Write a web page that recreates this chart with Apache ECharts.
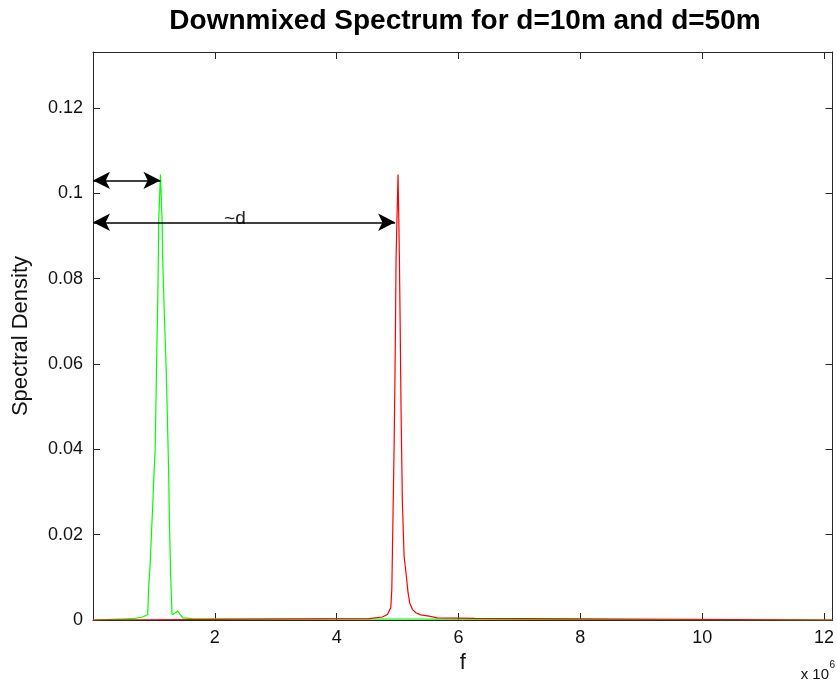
<!DOCTYPE html>
<html>
<head>
<meta charset="utf-8">
<script src="https://cdn.jsdelivr.net/npm/echarts@6/dist/echarts.min.js"></script>
<style>
  html, body { margin: 0; padding: 0; background: #fff; }
  #chart { width: 837px; height: 683px; }
</style>
</head>
<body>
<div id="chart"></div>
<script>
// Frequency axis in units of 10^6 Hz
const fGreen = [0, 0.652, 0.816, 0.898, 0.915, 0.939, 0.959, 0.980, 0.997, 1.020, 1.036, 1.052, 1.062, 1.074, 1.079,
  1.090, 1.107, 1.118, 1.134, 1.144, 1.172, 1.200, 1.221, 1.243, 1.254, 1.275, 1.298, 1.336, 1.390, 1.430, 1.472,
  1.636, 12.14];
const sGreen = [0, 0.0003, 0.0007, 0.0013, 0.0079, 0.0134, 0.0200, 0.0267, 0.0329, 0.0399, 0.0532, 0.0665, 0.0735,
  0.0868, 0.0938, 0.0977, 0.1044, 0.1001, 0.0938, 0.0845, 0.0712, 0.0595, 0.0478, 0.0337, 0.0236, 0.0103, 0.0013,
  0.0015, 0.0021, 0.0013, 0.0005, 0.0003, 0];

const fRed = [0, 4.534, 4.751, 4.833, 4.889, 4.905, 4.915, 4.931, 4.943, 4.954, 4.964, 4.975, 4.987, 5.008, 5.020,
  5.030, 5.041, 5.057, 5.079, 5.107, 5.144, 5.172, 5.200, 5.243, 5.298, 5.380, 5.516, 5.652, 6.270, 6.290, 12.14];
const sRed = [0, 0.0003, 0.0007, 0.0013, 0.0029, 0.0071, 0.0157, 0.0298, 0.0407, 0.0532, 0.0665, 0.0845, 0.0923,
  0.1044, 0.0938, 0.0845, 0.0712, 0.0493, 0.0275, 0.0149, 0.0103, 0.0064, 0.0040, 0.0025, 0.0017, 0.0012, 0.0009,
  0.0005, 0.0004, 0, 0];

// Tick labels
const xTickLabels = [2, 4, 6, 8, 10, 12];
const yTickLabels = [0, 0.02, 0.04, 0.06, 0.08, 0.1, 0.12];

// Distance annotations (horizontal double arrows)
const arrowShort = { from: [0, 0.1030], to: [1.107, 0.1030] };
const arrowLong = { from: [0, 0.0932], to: [4.96, 0.0932] };
const arrowLongText = { at: [2.33, 0.0932], text: '~d' };

const X_MAX = 12.14, Y_MAX = 0.1331;
const FONT = '"Liberation Sans", Arial, Helvetica, sans-serif';
const AXIS_COLOR = '#262626';

const pairs = (xs, ys) => xs.map((x, i) => [x, ys[i]]);
const near = (v, list) => list.some(t => Math.abs(t - v) < 1e-6);

const chart = echarts.init(document.getElementById('chart'), null, { renderer: 'canvas' });

const baseX = {
  type: 'value', min: 0, max: X_MAX, interval: 2,
  axisLine: { show: true, onZero: false, lineStyle: { color: AXIS_COLOR, width: 1 } },
  axisTick: { show: true, inside: true, length: 7, lineStyle: { color: AXIS_COLOR } },
  splitLine: { show: false }
};
const baseY = {
  type: 'value', min: 0, max: Y_MAX, interval: 0.02,
  axisLine: { show: true, onZero: false, lineStyle: { color: AXIS_COLOR, width: 1 } },
  axisTick: { show: true, inside: true, length: 7, lineStyle: { color: AXIS_COLOR } },
  splitLine: { show: false }
};

const arrowLine = (a) => [{ coord: a.from }, { coord: a.to }];

chart.setOption({
  animation: false,
  backgroundColor: '#ffffff',
  textStyle: { fontFamily: FONT },
  grid: { left: 93, top: 52, width: 741, height: 568, containLabel: false },
  xAxis: [
    Object.assign({}, baseX, {
      position: 'bottom',
      name: 'f', nameLocation: 'middle', nameGap: 26,
      nameTextStyle: { fontFamily: FONT, fontSize: 22, color: '#111' },
      axisLabel: {
        show: true, margin: 9, fontFamily: FONT, fontSize: 18, color: '#111',
        formatter: v => near(v, xTickLabels) ? String(v) : ''
      }
    }),
    Object.assign({}, baseX, { position: 'top', axisLabel: { show: false } })
  ],
  yAxis: [
    Object.assign({}, baseY, {
      position: 'left',
      name: 'Spectral Density', nameLocation: 'middle', nameGap: 61,
      nameTextStyle: { fontFamily: FONT, fontSize: 22, color: '#111' },
      axisLabel: {
        show: true, margin: 10, fontFamily: FONT, fontSize: 18, color: '#111',
        formatter: v => near(v, yTickLabels) ? String(parseFloat(v.toFixed(4))) : ''
      }
    }),
    Object.assign({}, baseY, { position: 'right', axisLabel: { show: false } })
  ],
  series: [
    {
      name: 'd=10m', type: 'line', xAxisIndex: 0, yAxisIndex: 0,
      data: pairs(fGreen, sGreen), showSymbol: false, symbol: 'none',
      lineStyle: { color: '#00ff00', width: 1.2 }, z: 2,
      markLine: {
        silent: true, symbol: ['arrow', 'arrow'], symbolSize: [13, 17],
        lineStyle: { color: '#000', width: 1.5, type: 'solid' },
        itemStyle: { color: '#000' },
        label: { show: false },
        data: [arrowLine(arrowShort), arrowLine(arrowLong)]
      }
    },
    {
      name: 'd=50m', type: 'line', xAxisIndex: 0, yAxisIndex: 0,
      data: pairs(fRed, sRed), showSymbol: false, symbol: 'none',
      lineStyle: { color: '#ff0000', width: 1.2 }, z: 3
    }
  ]
});

// Texts: title, axis exponent, and the annotation on the long arrow
const p = chart.convertToPixel({ gridIndex: 0 }, arrowLongText.at);
chart.setOption({
  graphic: [
    {
      type: 'text', x: 465, y: 21,
      style: {
        text: 'Downmixed Spectrum for d=10m and d=50m',
        font: 'bold 28px ' + FONT, fill: '#000',
        textAlign: 'center', textVerticalAlign: 'middle'
      }
    },
    {
      type: 'text', x: 829, y: 682,
      style: { text: 'x 10', font: '15px ' + FONT, fill: '#111', textAlign: 'right', textVerticalAlign: 'bottom' }
    },
    {
      type: 'text', x: 829.5, y: 670,
      style: { text: '6', font: '10px ' + FONT, fill: '#111', textAlign: 'left', textVerticalAlign: 'bottom' }
    },
    {
      type: 'text', x: p[0], y: p[1] + 6,
      style: { text: arrowLongText.text, font: '19px ' + FONT, fill: '#222', textAlign: 'center', textVerticalAlign: 'bottom' }
    }
  ]
});
</script>
</body>
</html>
